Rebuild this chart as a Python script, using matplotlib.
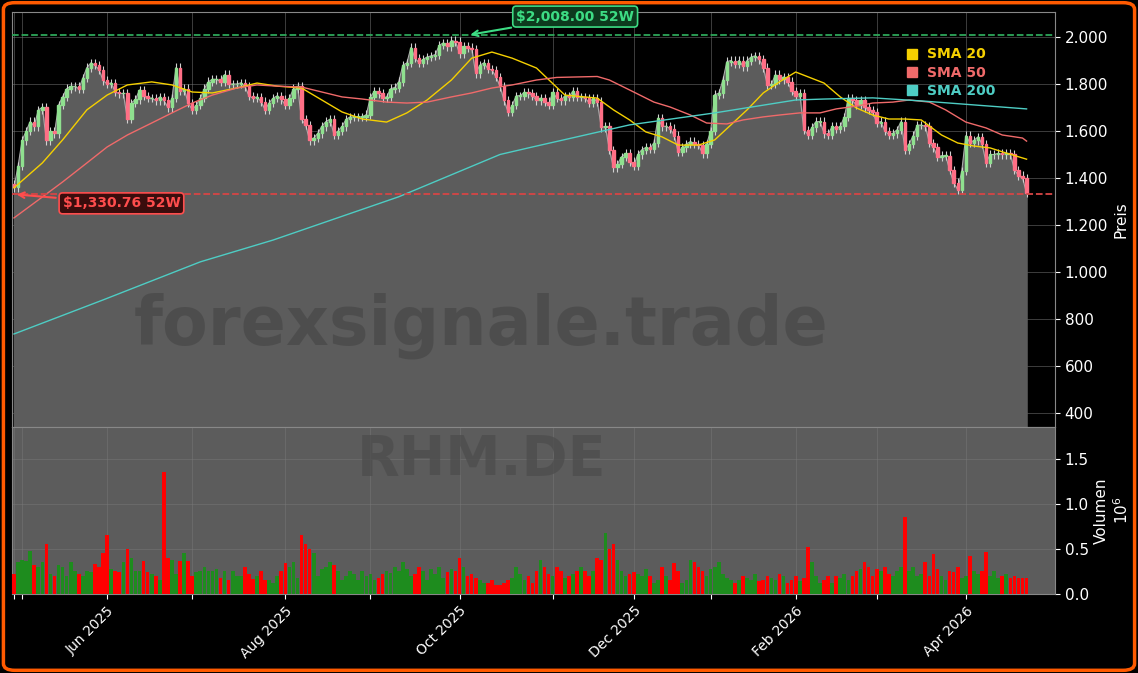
import numpy as np
import pandas as pd
import matplotlib
matplotlib.use("Agg")
import matplotlib.pyplot as plt
from matplotlib.patches import FancyBboxPatch, Rectangle
from matplotlib.lines import Line2D
from matplotlib.ticker import FuncFormatter

# --- daily closes ---
closes = [
    1360, 1450, 1560, 1600, 1640, 1620, 1690, 1700, 1560, 1600, 1590, 1710, 1745, 1780, 1790, 1790,
    1780, 1825, 1870, 1890, 1880, 1860, 1815, 1800, 1805, 1765, 1760, 1760, 1650, 1720, 1735, 1775,
    1750, 1740, 1740, 1730, 1745, 1730, 1700, 1740, 1870, 1770, 1780, 1720, 1690, 1710, 1740, 1780,
    1810, 1820, 1820, 1810, 1840, 1800, 1800, 1800, 1805, 1790, 1750, 1740, 1745, 1725, 1690, 1720,
    1740, 1750, 1735, 1710, 1740, 1780, 1790, 1650, 1625, 1560, 1570, 1590, 1620, 1640, 1650, 1585,
    1600, 1620, 1650, 1660, 1660, 1660, 1660, 1670, 1745, 1770, 1760, 1740, 1745, 1780, 1785, 1810,
    1880, 1890, 1955, 1910, 1890, 1905, 1915, 1920, 1925, 1965, 1975, 1960, 1985, 1980, 1930, 1960,
    1955, 1950, 1845, 1880, 1890, 1865, 1860, 1830, 1790, 1730, 1680, 1710, 1750, 1750, 1765, 1760,
    1750, 1730,
    1740, 1725, 1710, 1765, 1740, 1730, 1750, 1745, 1770, 1745, 1745, 1740, 1720, 1740, 1725, 1615,
    1620, 1520, 1445, 1460, 1490, 1505, 1470, 1450, 1500, 1520, 1530, 1525, 1550, 1655, 1620, 1620,
    1610, 1580, 1510, 1530, 1545, 1555, 1545, 1540, 1505, 1545, 1600, 1755, 1760, 1815, 1895, 1900,
    1885, 1900, 1875, 1900, 1915, 1920, 1905, 1870, 1795, 1800, 1840, 1820, 1830, 1810, 1770, 1750,
    1760, 1605, 1585, 1615, 1640, 1640, 1590, 1585, 1620, 1610, 1620, 1660, 1740, 1730, 1710, 1730,
    1700, 1690, 1680, 1635, 1640, 1600, 1585, 1590, 1605, 1640, 1520, 1545, 1580, 1625, 1625, 1620,
    1550, 1530, 1490, 1495, 1495, 1435, 1380, 1350, 1430, 1580, 1550, 1560, 1575, 1545, 1465, 1500,
    1500, 1505, 1500, 1505, 1500, 1435, 1410, 1400, 1335,
]

# volume in millions
volumes = [
    0.22, 0.35, 0.38, 0.36, 0.48, 0.32, 0.30, 0.35, 0.55, 0.22,
    0.20, 0.32, 0.30, 0.20, 0.35, 0.25, 0.22, 0.20, 0.25, 0.24,
    0.33, 0.30, 0.45, 0.65, 0.28, 0.25, 0.24, 0.35, 0.50, 0.40,
    0.26, 0.25, 0.36, 0.24, 0.22, 0.20, 0.16, 1.35, 0.40, 0.38,
    0.22, 0.36, 0.45, 0.37, 0.20, 0.24, 0.25, 0.30, 0.26, 0.25,
    0.28, 0.18, 0.25, 0.15, 0.26, 0.20, 0.20, 0.30, 0.22, 0.17,
    0.20, 0.25, 0.15, 0.15, 0.12, 0.20, 0.25, 0.34, 0.30, 0.35,
    0.18, 0.65, 0.55, 0.50, 0.45, 0.20, 0.28, 0.30, 0.35, 0.32,
    0.25, 0.15, 0.20, 0.25, 0.22, 0.15, 0.25, 0.20, 0.22, 0.15,
    0.18, 0.22, 0.25, 0.23, 0.30, 0.26, 0.35, 0.28, 0.20, 0.22,
    0.30, 0.25, 0.15, 0.28, 0.22, 0.30, 0.18, 0.24, 0.28, 0.25,
    0.40, 0.30, 0.20, 0.22, 0.18, 0.15, 0.12, 0.12, 0.15, 0.10,
    0.10, 0.12, 0.15, 0.18, 0.30, 0.22, 0.15, 0.20, 0.12, 0.25,
    0.38, 0.30, 0.22, 0.20, 0.30, 0.25, 0.18, 0.20, 0.22, 0.25,
    0.30, 0.26, 0.20, 0.25, 0.40, 0.38, 0.68, 0.50, 0.55, 0.38,
    0.25, 0.20, 0.22, 0.24, 0.22, 0.20, 0.28, 0.20, 0.12, 0.15,
    0.30, 0.20, 0.15, 0.34, 0.26, 0.12, 0.15, 0.38, 0.35, 0.30,
    0.25, 0.20, 0.28, 0.30, 0.35, 0.22, 0.18, 0.15, 0.12, 0.15,
    0.20, 0.18, 0.15, 0.22, 0.14, 0.15, 0.20, 0.18, 0.15, 0.22,
    0.20, 0.12, 0.15, 0.20, 0.14, 0.18, 0.52, 0.35, 0.20, 0.12,
    0.15, 0.20, 0.12, 0.20, 0.18, 0.22, 0.15, 0.20, 0.25, 0.28,
    0.35, 0.30, 0.20, 0.28, 0.25, 0.30, 0.22, 0.20, 0.25, 0.30,
    0.85, 0.25, 0.30, 0.20, 0.22, 0.35, 0.20, 0.44, 0.28, 0.20,
    0.15, 0.25, 0.24, 0.30, 0.18, 0.20, 0.42, 0.25, 0.22, 0.25,
    0.47, 0.20, 0.25, 0.18, 0.20, 0.22, 0.18, 0.20, 0.18, 0.18, 0.18,
]

# moving averages sampled at candle index
sma20_idx = [0, 7, 12, 18, 23, 28, 34, 39, 44, 49, 55, 60, 65, 71, 76, 81, 86, 92, 97, 102, 108,
             113, 118, 123, 129, 136, 144, 148, 152, 156, 160, 164, 169, 173, 177, 181, 185, 189,
             193, 200, 204, 208, 212, 216, 220, 224, 229, 233, 237, 241, 245, 250]
sma20_val = [1358, 1464, 1562, 1690, 1753, 1796, 1809, 1796, 1766, 1762, 1783, 1804, 1791, 1783,
             1732, 1681, 1651, 1638, 1677, 1732, 1817, 1910, 1936, 1910, 1868, 1753, 1740, 1690,
             1647, 1596, 1575, 1540, 1540, 1562, 1626, 1690, 1762, 1809, 1851, 1804, 1745, 1698,
             1668, 1651, 1651, 1647, 1583, 1549, 1536, 1528, 1506, 1480]
sma50_idx = [0, 7, 12, 18, 23, 28, 34, 39, 44, 49, 55, 60, 65, 71, 76, 81, 86, 92, 97, 102, 108,
             113, 118, 123, 129, 134, 144, 147, 153, 158, 162, 167, 171, 176, 180, 185, 189, 194,
             199, 203, 208, 212, 217, 221, 226, 230, 235, 240, 244, 249, 250]
sma50_val = [1230, 1319, 1383, 1464, 1532, 1583, 1634, 1677, 1719, 1753, 1783, 1796, 1791, 1787,
             1766, 1745, 1736, 1723, 1719, 1723, 1745, 1762, 1783, 1796, 1817, 1828, 1832, 1817,
             1766, 1723, 1702, 1668, 1634, 1630, 1647, 1660, 1668, 1677, 1677, 1694, 1706, 1719,
             1723, 1732, 1723, 1690, 1638, 1613, 1583, 1570, 1557]
sma200_idx = [0, 22, 46, 64, 95, 120, 128, 152, 173, 193, 200, 212, 224, 237, 250]
sma200_val = [736, 881, 1043, 1136, 1320, 1500, 1532, 1626, 1677, 1732, 1736, 1741, 1728, 1711, 1694]

high_52w = 2008.00
low_52w = 1330.76
ticker = "RHM.DE"

holidays = ["2025-05-01", "2025-12-24", "2025-12-25", "2025-12-26", "2025-12-31",
            "2026-01-01", "2026-04-03", "2026-04-06"]
dates = pd.date_range("2025-04-29", periods=len(closes),
                      freq=pd.offsets.CustomBusinessDay(holidays=holidays))

closes = np.array(closes, dtype=float)
opens = np.r_[closes[0] + 15, closes[:-1]]
highs = np.maximum(opens, closes) + 18
lows = np.minimum(opens, closes) - 18
x = np.arange(len(closes))
up = closes >= opens

BG = "black"
PANEL = "#5c5c5c"
fig = plt.figure(figsize=(11.38, 6.73), dpi=100, facecolor=BG)
ax = fig.add_axes([0.0105, 0.3655, 0.9165, 0.6165])
axv = fig.add_axes([0.0105, 0.1174, 0.9165, 0.2481], sharex=ax)

for a in (ax, axv):
    a.set_facecolor(BG)
    for s in a.spines.values():
        s.set_color("#888888")
    a.yaxis.tick_right()
    a.yaxis.set_label_position("right")
    a.tick_params(colors="white", labelsize=11)
    a.grid(color="#777777", lw=0.6, alpha=0.6)
    a.set_axisbelow(True)
axv.set_facecolor(PANEL)

# price area
ax.fill_between(x, closes, 0, color=PANEL, zorder=1)
ax.plot(x, closes, color="#aaaaaa", lw=0.8, zorder=2)

# candles
for i in x:
    col = "#8fe08f" if up[i] else "#ff6f86"
    ax.vlines(i, lows[i], highs[i], color="#d0d0d0", lw=0.8, zorder=3)
    lo, hi = min(opens[i], closes[i]), max(opens[i], closes[i])
    ax.add_patch(Rectangle((i - 0.3, lo), 0.6, max(hi - lo, 2), color=col, zorder=4))

ax.plot(sma20_idx, sma20_val, color="#f5d000", lw=1.0, zorder=5)
ax.plot(sma50_idx, sma50_val, color="#f06a6a", lw=1.0, zorder=5)
ax.plot(sma200_idx, sma200_val, color="#4ecdc4", lw=1.0, zorder=5)

ax.axhline(high_52w, color="#2ea75a", ls="--", lw=1.3, zorder=5)
ax.axhline(low_52w, color="#d64545", ls="--", lw=1.3, zorder=5)

ax.annotate("\\$2,008.00 52W", xy=(112, high_52w), xytext=(124, 2070),
            color="#3ddc84", fontsize=10, fontweight="bold", zorder=8,
            bbox=dict(boxstyle="round,pad=0.25", fc="#0d3a1e", ec="#3ddc84", lw=1.2),
            arrowprops=dict(arrowstyle="->", color="#3ddc84", lw=1.5))
ax.annotate("\\$1,330.76 52W", xy=(0, low_52w), xytext=(12, 1275),
            color="#ff4d4d", fontsize=10, fontweight="bold", zorder=8,
            bbox=dict(boxstyle="round,pad=0.25", fc="#3a0d0d", ec="#ff4d4d", lw=1.2),
            arrowprops=dict(arrowstyle="->", color="#ff4d4d", lw=1.5))

ax.text(0.45, 0.245, "forexsignale.trade", transform=ax.transAxes, ha="center", va="center",
        fontsize=48, fontweight="bold", color="#4a4a4a", alpha=0.8, zorder=2)
axv.text(0.45, 0.8, ticker, transform=axv.transAxes, ha="center", va="center",
         fontsize=40, fontweight="bold", color="#4e4e4e", alpha=0.8, zorder=1)

handles = [Line2D([], [], marker="s", ls="", color=c, markersize=7)
           for c in ("#f5d000", "#f06a6a", "#4ecdc4")]
leg = ax.legend(handles, ["SMA 20", "SMA 50", "SMA 200"], loc="upper right",
                bbox_to_anchor=(0.955, 0.945), frameon=False, handletextpad=0.1,
                labelspacing=0.3, prop={"weight": "bold", "size": 10})
for t, c in zip(leg.get_texts(), ("#f5d000", "#f06a6a", "#4ecdc4")):
    t.set_color(c)

ax.set_ylim(340, 2106)
ax.set_yticks(range(400, 2001, 200))
ax.yaxis.set_major_formatter(FuncFormatter(lambda v, p: f"{int(v):,}".replace(",", ".")))
ax.set_ylabel("Preis", color="white", fontsize=11)
plt.setp(ax.get_xticklabels(), visible=False)

# volume
vcol = np.where(up, "#1e8c1e", "#ff0000")
axv.bar(x, volumes, width=0.9, color=vcol, zorder=3)
axv.set_ylim(0, 1.85)
axv.set_yticks([0, 0.5, 1.0, 1.5])
axv.set_ylabel("Volumen\n$10^6$", color="white", fontsize=11)

# month ticks at first trading day
mstart = [i for i in range(len(dates)) if i == 0 or dates[i].month != dates[i - 1].month]
axv.set_xticks(mstart)
axv.set_xticklabels([dates[i].strftime("%b %Y") if (dates[i].month % 2 == 0 and i > 0) else ""
                     for i in mstart],
                    rotation=45, ha="right", rotation_mode="anchor", fontsize=10)
axv.set_xlim(-0.5, 257)

fig.patches.append(FancyBboxPatch((0.003, 0.004), 0.994, 0.992, boxstyle="round,pad=0,rounding_size=0.01",
                                  transform=fig.transFigure, fc="none", ec="#ff5a00", lw=2.5))
fig.savefig("out.png", dpi=100, facecolor=BG)
